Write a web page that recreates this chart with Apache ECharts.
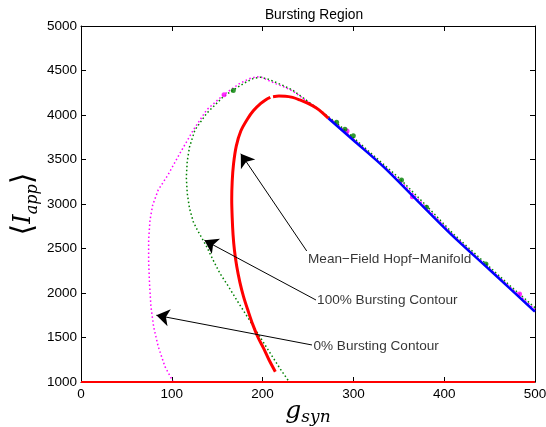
<!DOCTYPE html>
<html>
<head>
<meta charset="utf-8">
<script src="https://cdn.jsdelivr.net/npm/echarts@6/dist/echarts.min.js"></script>
<style>html,body{margin:0;padding:0;background:#fff;}#c{width:546px;height:427px;}</style>
</head>
<body>
<div id="c"></div>
<script>
// ---- data ----
var xTicks = [0, 100, 200, 300, 400, 500];
var yTicks = [1000, 1500, 2000, 2500, 3000, 3500, 4000, 4500, 5000];

// Mean-field Hopf manifold, red part (two pieces with small gap)
var hopfRedA = [[214,1116],[207,1250],[201,1380],[195,1500],[189,1650],[184,1800],[179,1960],[175,2120],[171.5,2300],[169,2480],[167.5,2650],[166.5,2850],[166,3050],[166.5,3250],[168,3450],[171,3650],[176,3820],[183,3950],[190,4050],[198,4130],[204,4175],[208.5,4197]];
var hopfRedB = [[211.5,4206],[218,4213],[225,4212],[233,4198],[241,4169],[250,4130],[259.6,4076],[266,4025],[272.4,3963]];
// blue part of the manifold
var hopfBlue = [[272.4,3963],[300,3716],[333,3420],[370,3042],[406.4,2671],[450,2261],[498,1809],[500,1790]];
// red line along the bottom
var hopfBase = [[0,1000],[500,1000]];

// 100% bursting contour (green dotted)
var contour100 = [[228,1020],[219,1154],[208,1330],[197,1509],[184,1720],[171.5,1921],[162,2080],[153,2221],[145,2380],[138.4,2520],[133,2620],[128,2710],[123.7,2800],[119.5,2950],[117,3120],[116,3300],[117,3480],[119.5,3640],[125.5,3832],[138.4,4019],[156.7,4206],[167.7,4281],[180,4360],[190,4412],[198,4425],[207,4400],[215,4365],[225,4320],[233,4280],[245,4190],[255,4115],[263,4055],[272,3985],[282,3905],[290,3835],[320,3565],[350,3295],[380,2985],[410,2665],[440,2385],[470,2105],[500,1835]];
// 0% bursting contour (magenta dotted)
var contour0 = [[101.6,1000],[92.5,1172],[85,1400],[80,1620],[77,1850],[75.5,2100],[74.5,2350],[74.5,2600],[76,2820],[79,2990],[85,3157],[96,3330],[109,3570],[123.7,3832],[138.4,4057],[156.7,4225],[175,4356],[186,4410],[193.4,4431],[200,4420],[206,4390],[215,4350],[225,4310],[233,4270],[245,4185],[255,4110],[263,4050],[272,3980],[285,3870],[320,3550],[350,3275],[380,2965],[410,2650],[440,2365],[470,2090],[500,1818]];

// larger markers on the contours
var dots100 = [[167.7,4274],[281.5,3918],[290.7,3839],[299.9,3768],[353,3270],[380.6,2963],[446,2326]];
var dots0 = [[157.5,4228],[365,3082],[483,1989],[293,3820]];

// annotation arrows: [tailX, tailY, tipX, tipY]
var arrows = [[248.6,2472,176,3565],[258.8,1921,136,2592],[254.4,1416,83,1750]];
var annotationTexts = ['Mean\u2212Field Hopf\u2212Manifold','100% Bursting Contour','0% Bursting Contour'];
var annotationPos = [[250,2380],[260,1921],[256,1404]];

// ---- chart ----
var chart = echarts.init(document.getElementById('c'));
var FONT = 'Liberation Sans';
function axisCommon(extra){
  var a = {
    axisLine:{show:true,onZero:false,lineStyle:{color:'#000',width:1}},
    axisTick:{show:true,inside:true,length:5,lineStyle:{color:'#000'}},
    splitLine:{show:false},
    axisLabel:{show:false}
  };
  for (var k in extra) a[k]=extra[k];
  return a;
}
function plain(v){ return String(v); }
var option = {
  backgroundColor:'#fff',
  animation:false,
  title:{text:'Bursting Region',left:309,top:3,textAlign:'center',textStyle:{fontFamily:FONT,fontSize:13.8,fontWeight:'normal',color:'#000'}},
  grid:{left:81,right:11,top:26,bottom:45,containLabel:false,outerBoundsMode:'none'},
  xAxis:[
    axisCommon({type:'value',position:'bottom',min:xTicks[0],max:xTicks[xTicks.length-1],interval:100,
      axisLabel:{show:true,color:'#000',fontFamily:FONT,fontSize:13.5,margin:5,formatter:plain},
      name:'{g|g}{s|syn}',nameLocation:'middle',nameGap:14,nameMoveOverlap:false,
      nameTextStyle:{rich:{
        g:{fontFamily:'DejaVu Serif',fontStyle:'italic',fontSize:25,lineHeight:30,verticalAlign:'middle',color:'#000'},
        s:{fontFamily:'DejaVu Serif',fontStyle:'italic',fontSize:17,lineHeight:18,verticalAlign:'bottom',color:'#000'}
      }}
    }),
    axisCommon({type:'value',position:'top',min:xTicks[0],max:xTicks[xTicks.length-1],interval:100})
  ],
  yAxis:[
    axisCommon({type:'value',position:'left',min:yTicks[0],max:yTicks[yTicks.length-1],interval:500,
      axisLabel:{show:true,color:'#000',fontFamily:FONT,fontSize:13.5,margin:4,formatter:plain},
      name:'{b|\u27E8}{i|I}{s|app}{b|\u27E9}',nameLocation:'middle',nameRotate:90,nameGap:40,nameMoveOverlap:false,
      nameTextStyle:{rich:{
        b:{fontFamily:'DejaVu Sans',fontSize:30,lineHeight:34,verticalAlign:'middle',color:'#000'},
        i:{fontFamily:'DejaVu Serif',fontStyle:'italic',fontSize:24,lineHeight:30,verticalAlign:'middle',color:'#000'},
        s:{fontFamily:'DejaVu Serif',fontStyle:'italic',fontSize:16,lineHeight:16,verticalAlign:'bottom',color:'#000'}
      }}
    }),
    axisCommon({type:'value',position:'right',min:yTicks[0],max:yTicks[yTicks.length-1],interval:500})
  ],
  series:[
    {type:'line',data:hopfBase,symbol:'none',lineStyle:{color:'#ff0000',width:2},z:3},
    {type:'line',data:contour0,symbol:'none',lineStyle:{color:'#ff00ff',width:1.5,type:[1.5,2.5]},z:2},
    {type:'line',data:contour100,symbol:'none',lineStyle:{color:'#008000',width:1.5,type:[1.5,2.5]},z:2},
    {type:'scatter',data:dots0,symbol:'circle',symbolSize:5,itemStyle:{color:'#ff00ff'},z:2},
    {type:'scatter',data:dots100,symbol:'circle',symbolSize:5,itemStyle:{color:'#008000'},z:2},
    {type:'line',data:hopfRedA,symbol:'none',smooth:0.3,lineStyle:{color:'#ff0000',width:3},z:4},
    {type:'line',data:hopfRedB,symbol:'none',smooth:0.3,lineStyle:{color:'#ff0000',width:3},z:4},
    {type:'line',data:hopfBlue,symbol:'none',smooth:0.3,lineStyle:{color:'#0000ff',width:2.5},z:4},
    {type:'scatter',data:annotationPos.map(function(p,i){return {value:p,name:annotationTexts[i]};}),
      symbolSize:0,silent:true,z:6,
      label:{show:true,position:'right',distance:0,formatter:function(p){return p.name;},
        fontFamily:FONT,fontSize:13.6,color:'#000'},
      markLine:{silent:true,symbol:['none','arrow'],symbolSize:13,animation:false,
        label:{show:false},
        lineStyle:{color:'#000',width:1,type:'solid'},
        data:arrows.map(function(a){return [{coord:[a[0],a[1]]},{coord:[a[2],a[3]]}];})
      }
    }
  ]
};
chart.setOption(option);
</script>
</body>
</html>
